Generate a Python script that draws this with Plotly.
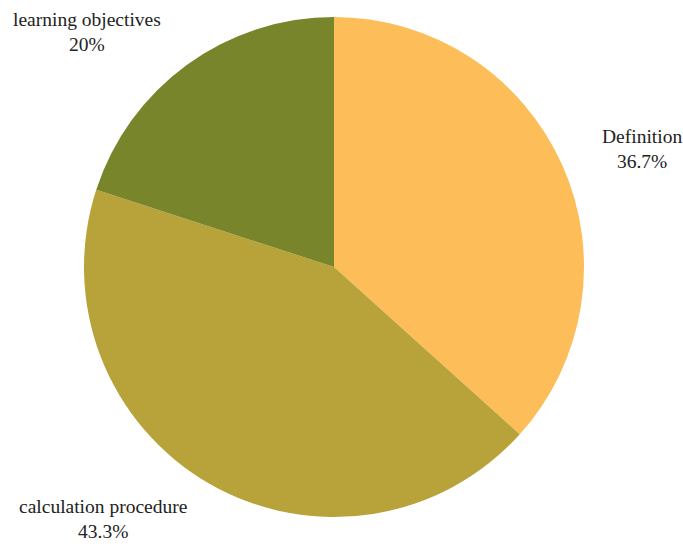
import math
import plotly.graph_objects as go

labels = ["Definition", "calculation procedure", "learning objectives"]
values = [11, 13, 6]
colors = ["#FDBD59", "#B8A23A", "#78852A"]

# plot area (pixels) that holds the pie
W, H = 683, 546
L, R, T, B = 84, 99, 17, 29
area_w = W - L - R
area_h = H - T - B
label_radius = 291 / area_w  # label anchor distance from centre, in paper units

fig = go.Figure(
    go.Pie(
        labels=labels,
        values=values,
        sort=False,
        direction="clockwise",
        rotation=0,
        marker=dict(colors=colors, line=dict(width=0)),
        textinfo="none",
        showlegend=False,
        hoverinfo="label+percent",
    )
)

# outside labels placed at each slice's mid-angle
total = sum(values)
cum = 0
annotations = []
for lab, v in zip(labels, values):
    mid = (cum + v / 2) / total * 2 * math.pi
    cum += v
    dx = math.sin(mid)
    dy = math.cos(mid)
    pct = round(100 * v / total, 1)
    pct_txt = (f"{pct:.1f}".rstrip("0").rstrip(".")) + "%"
    annotations.append(
        dict(
            x=0.5 + label_radius * dx,
            y=0.5 + label_radius * dy,
            xref="paper",
            yref="paper",
            text=f"{lab}<br>{pct_txt}",
            showarrow=False,
            xanchor="left" if dx >= 0 else "right",
            yanchor="middle",
            align="center",
            font=dict(family="Liberation Serif", size=19.5, color="#222222"),
        )
    )

fig.update_layout(
    width=W,
    height=H,
    margin=dict(l=L, r=R, t=T, b=B),
    paper_bgcolor="white",
    plot_bgcolor="white",
    annotations=annotations,
)

fig.write_html("out.html")
